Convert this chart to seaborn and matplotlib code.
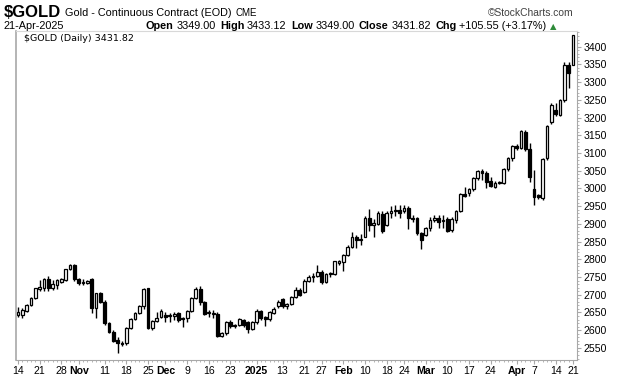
import matplotlib
matplotlib.use("Agg")
import matplotlib.pyplot as plt
import seaborn as sns
import numpy as np
import pandas as pd
from matplotlib import font_manager

# ---------------- data ----------------
start_date = "2024-10-14"
end_date = "2025-04-21"
holidays = ["2024-11-28", "2024-12-25", "2025-01-01", "2025-01-09",
            "2025-01-20", "2025-02-17", "2025-04-18"]

opens = [2643, 2643, 2655, 2671, 2690, 2716, 2718, 2745, 2718, 2728,
         2737, 2742, 2772, 2784, 2745, 2733, 2733, 2745, 2662, 2704,
         2681, 2620, 2596, 2573, 2565, 2563, 2607, 2632, 2648, 2667,
         2718, 2607, 2626, 2638,
         2642, 2641, 2640, 2648, 2634,
         2634, 2655, 2692, 2716, 2679,
         2648, 2648, 2645, 2585, 2591,
         2624, 2612, 2615, 2629,
         2622, 2603, 2622, 2655,
         2636, 2631, 2648, 2667,
         2687, 2667, 2674, 2695, 2714,
         2707, 2740, 2751, 2753,
         2763, 2737, 2758, 2758, 2791,
         2792, 2812, 2836, 2864, 2855,
         2864, 2916, 2897, 2899, 2927,
         2897, 2930, 2935, 2939,
         2935, 2946, 2915, 2916, 2874,
         2869, 2888, 2911, 2916, 2908,
         2914, 2883, 2911, 2937, 2985,
         2986, 2998, 3029, 3048, 3043,
         3022, 3005, 3016, 3016, 3055,
         3085, 3120, 3113, 3160, 3111,
         2999, 2980, 2972, 3085, 3186,
         3221, 3207, 3248, 3348,
         3349.00]
highs = [2665, 2662, 2674, 2694, 2720, 2742, 2748, 2752, 2742, 2745,
         2748, 2774, 2787, 2787, 2748, 2745, 2742, 2748, 2706, 2708,
         2685, 2624, 2600, 2580, 2570, 2610, 2635, 2652, 2672, 2718,
         2720, 2630, 2650, 2659,
         2652, 2648, 2652, 2652, 2638,
         2658, 2695, 2723, 2725, 2682,
         2657, 2657, 2650, 2596, 2625,
         2629, 2618, 2634, 2633,
         2625, 2625, 2659, 2658,
         2640, 2655, 2665, 2684,
         2692, 2678, 2696, 2723, 2720,
         2744, 2756, 2761, 2784,
         2770, 2762, 2765, 2796, 2798,
         2815, 2840, 2876, 2868, 2871,
         2921, 2941, 2913, 2935, 2935,
         2935, 2949, 2952, 2953,
         2952, 2950, 2925, 2920, 2878,
         2892, 2918, 2925, 2925, 2925,
         2918, 2918, 2940, 2987, 3005,
         3001, 3032, 3051, 3054, 3050,
         3033, 3020, 3022, 3058, 3088,
         3123, 3125, 3165, 3165, 3127,
         3052, 2985, 3085, 3179, 3242,
         3240, 3252, 3356, 3356,
         3433.12]
lows = [2636, 2634, 2652, 2668, 2688, 2712, 2712, 2712, 2713, 2715,
        2733, 2738, 2770, 2740, 2728, 2728, 2730, 2648, 2634, 2678,
        2615, 2592, 2566, 2535, 2555, 2558, 2603, 2628, 2645, 2660,
        2603, 2602, 2622, 2634,
        2624, 2624, 2629, 2624, 2610,
        2624, 2652, 2688, 2671, 2643,
        2638, 2634, 2580, 2580, 2586,
        2605, 2606, 2612, 2610,
        2593, 2600, 2618, 2630,
        2612, 2627, 2645, 2663,
        2662, 2660, 2670, 2692, 2697,
        2704, 2737, 2737, 2750,
        2730, 2733, 2750, 2755, 2784,
        2768, 2808, 2833, 2831, 2840,
        2862, 2880, 2864, 2896, 2875,
        2893, 2916, 2921, 2916,
        2930, 2885, 2905, 2868, 2828,
        2865, 2880, 2905, 2888, 2888,
        2876, 2878, 2902, 2933, 2977,
        2980, 2994, 3024, 3024, 3001,
        3005, 3000, 3012, 3013, 3050,
        3076, 3108, 3110, 3105, 3019,
        2953, 2970, 2968, 3080, 3181,
        3205, 3204, 3245, 3283,
        3349.00]
closes = [2651, 2657, 2671, 2692, 2718, 2721, 2745, 2718, 2730, 2742,
          2745, 2772, 2784, 2745, 2732, 2737, 2738, 2662, 2704, 2681,
          2620, 2596, 2570, 2563, 2561, 2607, 2632, 2648, 2667, 2716,
          2607, 2626, 2635, 2654,
          2638, 2643, 2645, 2629, 2631,
          2655, 2692, 2716, 2681, 2646,
          2651, 2645, 2585, 2591, 2622,
          2612, 2614, 2631, 2615,
          2603, 2622, 2655, 2634,
          2631, 2650, 2659, 2681,
          2669, 2674, 2693, 2714, 2700,
          2740, 2751, 2754, 2765,
          2737, 2759, 2761, 2794, 2795,
          2812, 2836, 2864, 2855, 2858,
          2916, 2897, 2902, 2930, 2880,
          2930, 2935, 2939, 2932,
          2946, 2916, 2917, 2874, 2855,
          2888, 2911, 2916, 2906, 2910,
          2881, 2914, 2937, 2985, 2980,
          2998, 3029, 3048, 3043, 3019,
          3007, 3016, 3019, 3055, 3085,
          3120, 3113, 3162, 3111, 3033,
          2977, 2977, 3082, 3176, 3234,
          3210, 3250, 3348, 3325,
          3431.82]

tick_dates = ["2024-10-14", "2024-10-21", "2024-10-28", "2024-11-01", "2024-11-11",
              "2024-11-18", "2024-11-25", "2024-12-02", "2024-12-09", "2024-12-16",
              "2024-12-23", "2025-01-02", "2025-01-13", "2025-01-21", "2025-01-27",
              "2025-02-03", "2025-02-10", "2025-02-18", "2025-02-24", "2025-03-03",
              "2025-03-10", "2025-03-17", "2025-03-24", "2025-04-01", "2025-04-07",
              "2025-04-14", "2025-04-21"]
tick_labels = ["14", "21", "28", "Nov", "11", "18", "25", "Dec", "9", "16", "23",
               "2025", "13", "21", "27", "Feb", "10", "18", "24", "Mar", "10",
               "17", "24", "Apr", "7", "14", "21"]
bold_labels = ["Nov", "Dec", "2025", "Feb", "Mar", "Apr"]
y_ticks = list(range(2550, 3401, 50))

# ---------------- build table ----------------
dates = pd.bdate_range(start_date, end_date)
dates = dates[~dates.isin(pd.to_datetime(holidays))]
n = min(len(dates), len(opens))
df = pd.DataFrame({"date": dates[:n], "open": opens[:n], "high": highs[:n],
                   "low": lows[:n], "close": closes[:n]})
df["x"] = np.arange(n)
df["up"] = df["close"] >= df["open"]
df["body_lo"] = df[["open", "close"]].min(axis=1)
df["body_h"] = (df["close"] - df["open"]).abs().clip(lower=1.5)

pos_of = {d: i for i, d in enumerate(df["date"])}
tick_pos = [pos_of[pd.Timestamp(d)] for d in tick_dates]

# ---------------- style ----------------
sns.set_theme(style="white")
plt.rcParams['font.family'] = ['Liberation Sans', 'DejaVu Sans']
installed = {f.name for f in font_manager.fontManager.ttflist}
narrow = "Liberation Sans Narrow" if "Liberation Sans Narrow" in installed else "Liberation Sans"

W, H = 620, 376
fig = plt.figure(figsize=(W / 100, H / 100), dpi=100)
fig.patch.set_facecolor("white")
ax = fig.add_axes([16 / W, 1 - 360 / H, (577 - 16) / W, (360 - 31) / H])
ax.set_facecolor("white")

# wicks
ax.vlines(df["x"], df["low"], df["high"], color="black", linewidth=1.0, zorder=1)
# bodies
ax.bar(df["x"], df["body_h"], bottom=df["body_lo"], width=0.64,
       color=np.where(df["up"], "white", "black"), edgecolor="black",
       linewidth=0.9, zorder=2)

ax.set_xlim(-0.46, 128.9)
ax.set_ylim(2516, 3444)

# axes styling
gray = "#a8a8a8"
for s in ["left", "right", "bottom", "top"]:
    ax.spines[s].set_visible(True)
    ax.spines[s].set_color(gray)
    ax.spines[s].set_linewidth(0.8)
ax.spines["left"].set_linewidth(1.2)
ax.spines["top"].set_color("#d8d8d8")

ax.yaxis.tick_right()
ax.set_yticks(y_ticks)
ax.set_yticklabels([str(v) for v in y_ticks])
ax.set_yticks(np.arange(2520, 3441, 10), minor=True)
ax.set_xticks(tick_pos)
ax.set_xticklabels(tick_labels)
ax.set_xticks(df["x"], minor=True)
ax.tick_params(axis="both", which="major", direction="out", length=3, width=0.8,
               color=gray, labelsize=7.6, labelcolor="black", pad=1.5)
ax.tick_params(axis="both", which="minor", direction="out", length=1.5, width=0.6,
               color=gray)
ax.tick_params(axis="y", which="both", left=False, right=True, labelleft=False,
               labelright=True, pad=2)
ax.tick_params(axis="x", which="both", bottom=True, top=False, pad=1.5)
for lab in ax.get_xticklabels():
    if lab.get_text() in bold_labels:
        lab.set_fontweight("bold")
ax.set_xlabel("")
ax.set_ylabel("")
ax.grid(False)

# ---------------- header texts ----------------
fig.canvas.draw()
renderer = fig.canvas.get_renderer()


def put(x_px, y_px, s, **kw):
    t = fig.text(x_px / W, 1 - y_px / H, s, ha="left", va="baseline", color="black", **kw)
    bb = t.get_window_extent(renderer=renderer)
    return bb.x1  # in pixels (display coords, same as px at dpi 100)


x = put(4, 17, "$GOLD", fontsize=12, fontweight="bold", family=narrow)
x = put(x + 4, 16, "Gold - Continuous Contract (EOD)", fontsize=7.8)
put(x + 4, 16, "CME", fontsize=7)
fig.text(574 / W, 1 - 16 / H, "\u00a9StockCharts.com", ha="right", va="baseline",
         fontsize=7.4, color="#404040")

put(4, 29, "21-Apr-2025", fontsize=7.8)
pieces = [("Open", True), ("3349.00", False), ("High", True), ("3433.12", False),
          ("Low", True), ("3349.00", False), ("Close", True), ("3431.82", False),
          ("Chg", True), ("+105.55 (+3.17%)", False)]
x = 146
for s, b in pieces:
    x = put(x, 29, s, fontsize=7.8, fontweight="bold" if b else "normal")
    x += 2.5 if b else 4.5
fig.text((x - 1) / W, 1 - 29 / H, "\u25b2", ha="left", va="baseline", fontsize=6,
         color="#2e8b3a", family="DejaVu Sans")

fig.text(24 / W, 1 - 41 / H, "$GOLD (Daily) 3431.82", ha="left", va="baseline",
         fontsize=6.8, color="black", family="DejaVu Sans")

fig.savefig("out.png", dpi=100, facecolor="white")
